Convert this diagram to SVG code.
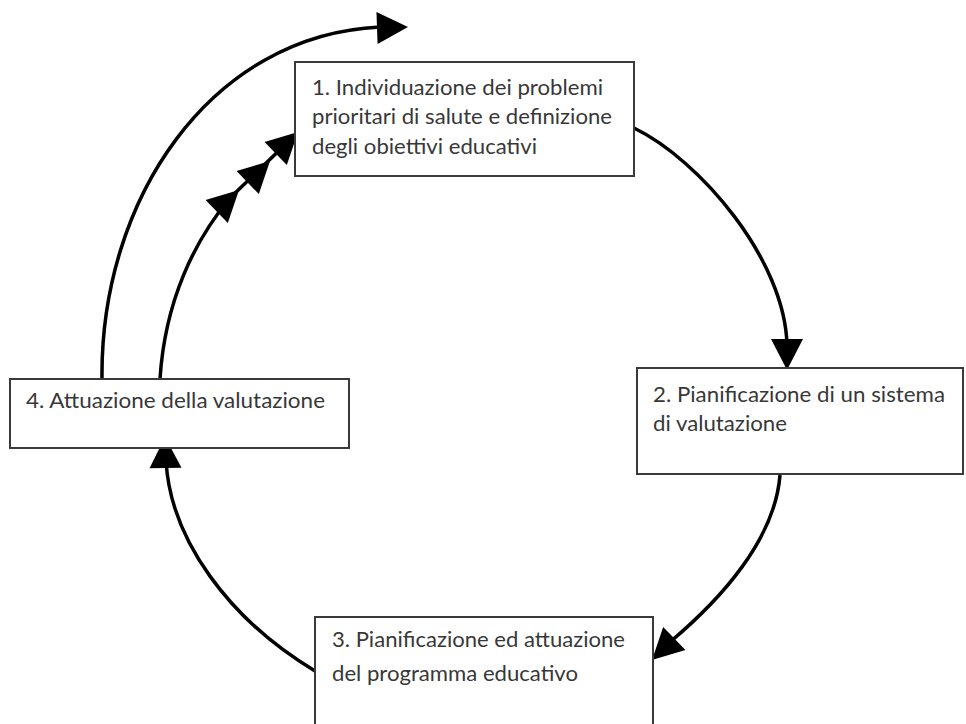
<svg xmlns="http://www.w3.org/2000/svg" xmlns:xlink="http://www.w3.org/1999/xlink" width="966" height="724" viewBox="0 0 966 724">
<style>
.box{fill:#fff;stroke:#3a3a3a;stroke-width:2}
.lbl{font-family:Lato,"Open Sans","Liberation Sans",sans-serif;font-size:22px;fill:#383838}
.conn{fill:none;stroke:#000;stroke-width:3.5}
.head{fill:#000}
</style>
<defs>
<path id="ah" d="M0,0 L-31,-16 L-31,16 Z"/>
</defs>
<rect width="966" height="724" fill="#fff"/>
<g id="connectors">
<path class="conn" d="M102,379 C100,200 210,35 380,27"/>
<use xlink:href="#ah" class="head" transform="translate(408,27) rotate(-2)"/>
<path class="conn" d="M160,379 C165,300 195,240 230,198 L290,140"/>
<use xlink:href="#ah" class="head" transform="translate(239,190) rotate(-44)"/>
<use xlink:href="#ah" class="head" transform="translate(270,161) rotate(-44)"/>
<use xlink:href="#ah" class="head" transform="translate(298,132) rotate(-44)"/>
<path class="conn" d="M634,128 C700,160 785,260 787,345"/>
<use xlink:href="#ah" class="head" transform="translate(787,370) rotate(90)"/>
<path class="conn" d="M780,475 C775,540 720,600 670,642"/>
<use xlink:href="#ah" class="head" transform="translate(652,660) rotate(136)"/>
<path class="conn" d="M315,671 C230,620 170,540 166,460"/>
<use xlink:href="#ah" class="head" transform="translate(165,437) rotate(-91)"/>
</g>
<g id="node1">
<rect class="box" x="295" y="62" width="339" height="114"/>
<text class="lbl" x="312" y="95" textLength="291" lengthAdjust="spacingAndGlyphs">1. Individuazione dei problemi</text>
<text class="lbl" x="312" y="124" textLength="300" lengthAdjust="spacingAndGlyphs">prioritari di salute e definizione</text>
<text class="lbl" x="312" y="154" textLength="225" lengthAdjust="spacingAndGlyphs">degli obiettivi educativi</text>
</g>
<g id="node2">
<rect class="box" x="637" y="368" width="326" height="106"/>
<text class="lbl" x="653" y="402" textLength="292" lengthAdjust="spacingAndGlyphs">2. Pianificazione di un sistema</text>
<text class="lbl" x="653" y="431" textLength="134" lengthAdjust="spacingAndGlyphs">di valutazione</text>
</g>
<g id="node3">
<rect class="box" x="315" y="617" width="338" height="130"/>
<text class="lbl" x="332" y="647" textLength="293" lengthAdjust="spacingAndGlyphs">3. Pianificazione ed attuazione</text>
<text class="lbl" x="332" y="681" textLength="246" lengthAdjust="spacingAndGlyphs">del programma educativo</text>
</g>
<g id="node4">
<rect class="box" x="10" y="379" width="339" height="69"/>
<text class="lbl" x="26" y="408" textLength="299" lengthAdjust="spacingAndGlyphs">4. Attuazione della valutazione</text>
</g>
</svg>
